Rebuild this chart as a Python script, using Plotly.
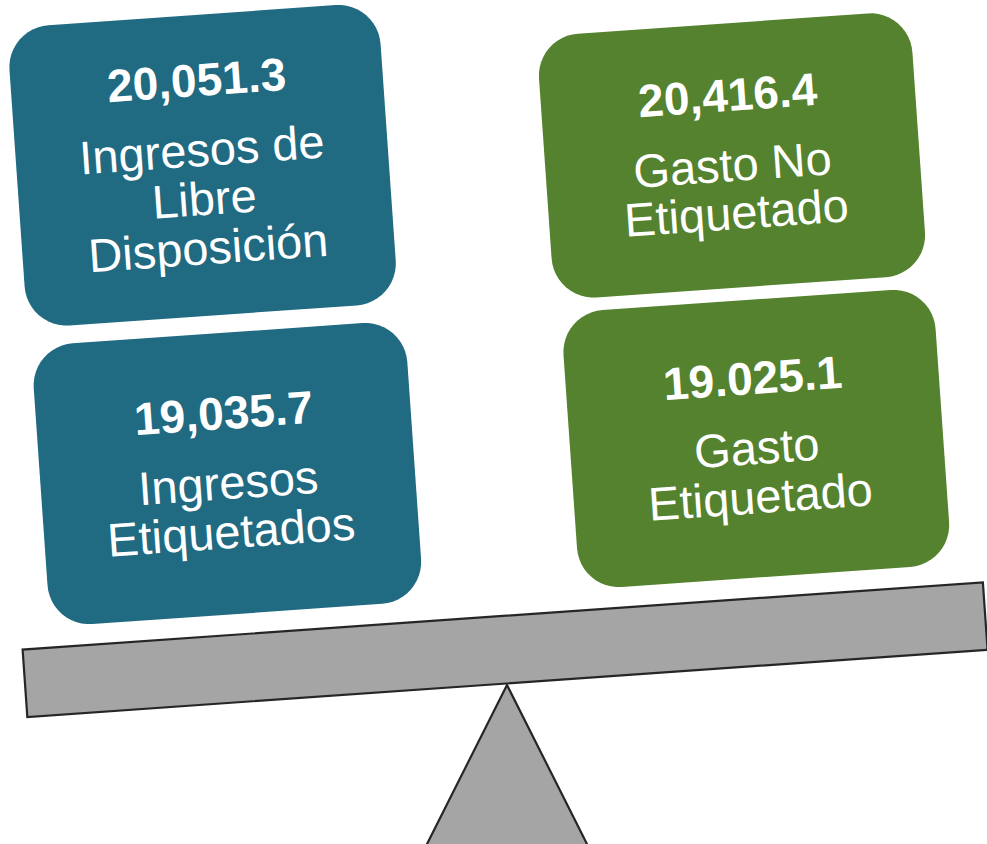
import math
import plotly.graph_objects as go

# ---------------- data ----------------
value_texts = ["20,051.3", "19,035.7", "20,416.4", "19.025.1"]
label_lines = [
    ["Ingresos de", "Libre", "Disposición"],
    ["Ingresos", "Etiquetados"],
    ["Gasto No", "Etiquetado"],
    ["Gasto", "Etiquetado"],
]
groups = ["Ingresos", "Ingresos", "Gasto", "Gasto"]

# ---------------- styling / layout ----------------
W, H = 987, 844
TILT = 4.0  # degrees, whole balance tilted up to the right
group_colors = {"Ingresos": "#206A82", "Gasto": "#55822E"}
box_centers = [(202.6, 165.3), (227.4, 473.6), (732.0, 155.4), (756.3, 438.5)]
box_sizes = [(372, 301), (374.5, 281.4), (374.3, 264.4), (373, 277.6)]
corner_r = 42
num_size, lab_size = 46, 47
num_gap, line_gap, block_shift = 70, 49, 14.5

beam_center = (505.1, 649.7)
beam_size = (962.6, 67.6)
pivot_apex = (507, 685)
pivot_slope = 0.503  # half-width per pixel of height
grey, edge = "#A5A5A5", "#262626"
FONT = "Liberation Sans, Arial, sans-serif"

th = math.radians(TILT)
U = (math.cos(th), -math.sin(th))
V = (math.sin(th), math.cos(th))


def to_screen(c, a, b):
    return (c[0] + a * U[0] + b * V[0], c[1] + a * U[1] + b * V[1])


def rounded_rect_path(c, w, h, r, n=12):
    pts = []
    hw, hh = w / 2, h / 2
    corners = [
        (hw - r, -hh + r, -90, 0),
        (hw - r, hh - r, 0, 90),
        (-hw + r, hh - r, 90, 180),
        (-hw + r, -hh + r, 180, 270),
    ]
    for cx, cy, a0, a1 in corners:
        if r == 0:
            pts.append((cx, cy))
            continue
        for i in range(n + 1):
            ang = math.radians(a0 + (a1 - a0) * i / n)
            pts.append((cx + r * math.cos(ang), cy + r * math.sin(ang)))
    scr = [to_screen(c, a, b) for a, b in pts]
    return "M " + " L ".join(f"{x:.2f},{y:.2f}" for x, y in scr) + " Z"


fig = go.Figure()
shapes = []
annotations = []

for i, (val, lines, grp) in enumerate(zip(value_texts, label_lines, groups)):
    c = box_centers[i]
    w, h = box_sizes[i]
    shapes.append(dict(type="path", xref="x", yref="y",
                       path=rounded_rect_path(c, w, h, corner_r),
                       fillcolor=group_colors[grp], line=dict(width=0), layer="below"))
    n = len(lines)
    total = num_gap + line_gap * (n - 1)
    base = block_shift - total / 2
    items = [(f"<b>{val}</b>", num_size, base)]
    for k, ln in enumerate(lines):
        items.append((ln, lab_size, base + num_gap + line_gap * k))
    for txt, sz, bl in items:
        px, py = to_screen(c, 0, bl - 0.3465 * sz)
        annotations.append(dict(x=px, y=py, xref="x", yref="y", text=txt,
                                showarrow=False, textangle=-TILT,
                                xanchor="center", yanchor="middle",
                                font=dict(family=FONT, size=sz, color="white")))

# fulcrum triangle
ax, ay = pivot_apex
ybot = H + 60
hwid = pivot_slope * (ybot - ay)
shapes.append(dict(type="path", xref="x", yref="y",
                   path=f"M {ax},{ay} L {ax - hwid},{ybot} L {ax + hwid},{ybot} Z",
                   fillcolor=grey, line=dict(color=edge, width=2.2), layer="below"))
# beam
shapes.append(dict(type="path", xref="x", yref="y",
                   path=rounded_rect_path(beam_center, beam_size[0], beam_size[1], 0),
                   fillcolor=grey, line=dict(color=edge, width=2.2), layer="below"))

fig.update_layout(
    width=W, height=H,
    margin=dict(l=0, r=0, t=0, b=0),
    paper_bgcolor="white", plot_bgcolor="white",
    xaxis=dict(range=[0, W], visible=False, fixedrange=True),
    yaxis=dict(range=[H, 0], visible=False, fixedrange=True),
    shapes=shapes, annotations=annotations, showlegend=False,
    hovermode=False,
)
fig.write_html(
    "out.html",
    config={"displayModeBar": False, "staticPlot": True},
    post_script="document.body.style.margin='0';document.body.style.overflow='hidden';",
)
